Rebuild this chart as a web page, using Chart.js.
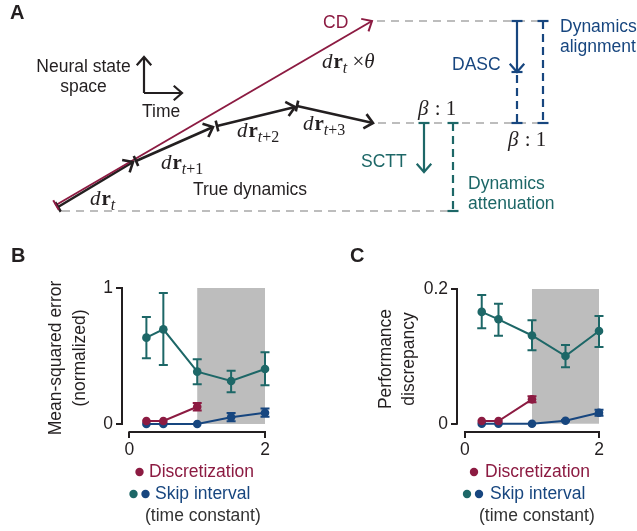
<!DOCTYPE html>
<html><head><meta charset="utf-8">
<script src="https://cdn.jsdelivr.net/npm/chart.js@4.4.1/dist/chart.umd.min.js"></script>
<style>
html,body{margin:0;padding:0;background:#fff;width:637px;height:531px;overflow:hidden;}
canvas{position:absolute;}
</style></head><body>
<canvas id="cA" width="637" height="230" style="left:0px;top:0px"></canvas>
<canvas id="cB" width="318" height="301" style="left:0px;top:230px"></canvas>
<canvas id="cC" width="319" height="301" style="left:318px;top:230px"></canvas>
<script>
// ================= DATA =================
// x values: skip interval / discretization (time constant)
const skipIntervals = [0.25, 0.5, 1, 1.5, 2];
const discIntervals = [0.25, 0.5, 1];
const shadeRange = [1, 2];

// Panel B: Mean-squared error (normalized)
const mseSkipTeal     = [0.635, 0.696, 0.385, 0.316, 0.404];
const mseSkipTealLow  = [0.483, 0.434, 0.292, 0.233, 0.284];
const mseSkipTealHigh = [0.787, 0.963, 0.476, 0.392, 0.527];
const mseSkipBlue     = [0, 0, 0, 0.05, 0.083];
const mseSkipBlueLow  = [0, 0, 0, 0.02, 0.053];
const mseSkipBlueHigh = [0, 0, 0, 0.08, 0.113];
const mseDisc         = [0.022, 0.022, 0.127];
const mseDiscLow      = [0.022, 0.022, 0.099];
const mseDiscHigh     = [0.022, 0.022, 0.155];
const mseYTicks = [0, 1];
const mseYTickLabels = ['0', '1'];

// Panel C: Performance discrepancy
const perfSkipTeal     = [0.166, 0.155, 0.131, 0.1005, 0.1376];
const perfSkipTealLow  = [0.1416, 0.1307, 0.109, 0.084, 0.114];
const perfSkipTealHigh = [0.191, 0.178, 0.1535, 0.117, 0.160];
const perfSkipBlue     = [0, 0, 0, 0.0045, 0.0163];
const perfSkipBlueLow  = [0, 0, 0, 0.0035, 0.0118];
const perfSkipBlueHigh = [0, 0, 0, 0.0055, 0.0208];
const perfDisc         = [0.004, 0.004, 0.0362];
const perfDiscLow      = [0.004, 0.004, 0.0317];
const perfDiscHigh     = [0.004, 0.004, 0.0407];
const perfYTicks = [0, 0.2];
const perfYTickLabels = ['0', '0.2'];

const xTicks = [0, 2];
const xTickLabels = ['0', '2'];

// Panel A: schematic (diagram coordinates)
const cdLine      = [[56, 205], [372, 21]];
const drStep0     = [[58, 207], [133, 162]];
const drStep1     = [[136, 161], [213, 127]];
const drStep2     = [[217, 126], [295, 107]];
const drStep3     = [[297, 106], [373, 123]];
const axisUp      = [[144, 93], [144, 57]];
const axisRight   = [[144, 93], [182, 93]];
const refTop      = [[377, 21], [543, 21]];
const refMid      = [[378, 123], [548, 123]];
const refBottom   = [[62, 211], [449, 211]];
const dascArrow   = [[517, 21], [517, 72]];
const dascDash    = [[517, 75], [517, 123]];
const alignDash   = [[543, 21], [543, 123]];
const scttArrow   = [[424, 123], [424, 172]];
const attenDash   = [[453, 123], [453, 211]];

// ================= STYLE =================
const CRIMSON = '#8C1B42';
const BLUE = '#17467F';
const TEAL = '#1D6767';
const INK = '#231F20';
const GREY = '#BDBDBD';
const SANS = '"Liberation Sans", Arial, sans-serif';
const SERIF = '"Liberation Serif", "Times New Roman", serif';

Chart.defaults.font.family = SANS;
Chart.defaults.color = INK;

// ================= PANEL A =================
const segs = [
  {pts: refBottom, color: GREY, w: 2, dash: [8, 6]},
  {pts: refMid, color: GREY, w: 2, dash: [8, 6]},
  {pts: refTop, color: GREY, w: 2, dash: [8, 6]},
  {pts: drStep0, color: INK, w: 2.6, arrow: true, capStart: true},
  {pts: drStep1, color: INK, w: 2.6, arrow: true, capStart: true},
  {pts: drStep2, color: INK, w: 2.6, arrow: true, capStart: true},
  {pts: drStep3, color: INK, w: 2.6, arrow: true, capStart: true},
  {pts: cdLine, color: CRIMSON, w: 2, arrow: true, capStart: true},
  {pts: axisUp, color: INK, w: 2.2, arrow: true},
  {pts: axisRight, color: INK, w: 2.2, arrow: true},
  {pts: dascArrow, color: BLUE, w: 2.2, arrow: true, capStart: true, capEnd: true},
  {pts: dascDash, color: BLUE, w: 2.2, dash: [8, 5], capEnd: true},
  {pts: alignDash, color: BLUE, w: 2.2, dash: [8, 5], capStart: true, capEnd: true},
  {pts: scttArrow, color: TEAL, w: 2.2, arrow: true, capStart: true},
  {pts: attenDash, color: TEAL, w: 2.2, dash: [8, 5], capStart: true, capEnd: true}
];

const sansLabels = [
  {t: 'A', x: 10, y: 13, c: INK, f: 'bold 20px ' + SANS},
  {t: 'Neural state', x: 83.5, y: 67, c: INK, align: 'center'},
  {t: 'space', x: 83.5, y: 87, c: INK, align: 'center'},
  {t: 'Time', x: 142, y: 112, c: INK},
  {t: 'True dynamics', x: 193, y: 190, c: INK},
  {t: 'CD', x: 323, y: 23, c: CRIMSON},
  {t: 'DASC', x: 452, y: 65, c: BLUE},
  {t: 'Dynamics', x: 560, y: 27, c: BLUE},
  {t: 'alignment', x: 560, y: 47, c: BLUE},
  {t: 'SCTT', x: 361, y: 162, c: TEAL},
  {t: 'Dynamics', x: 468, y: 184, c: TEAL},
  {t: 'attenuation', x: 468, y: 204, c: TEAL}
];

// math labels: parts [text, style] ; i=italic, b=bold, n=normal, si/sn = subscript
const mathLabels = [
  {x: 90, y: 205, parts: [['d','i'],['r','b'],['t','si']]},
  {x: 161, y: 169, parts: [['d','i'],['r','b'],['t','si'],['+1','sn']]},
  {x: 237, y: 137, parts: [['d','i'],['r','b'],['t','si'],['+2','sn']]},
  {x: 303, y: 130, parts: [['d','i'],['r','b'],['t','si'],['+3','sn']]},
  {x: 322, y: 68, parts: [['d','i'],['r','b'],['t','si'],[' \u00D7','n'],['\u03B8','i']]},
  {x: 418, y: 115, parts: [['\u03B2','i'],[' : ','n'],['1','n']]},
  {x: 508, y: 145.5, parts: [['\u03B2','i'],[' : ','n'],['1','n']]}
];

const mathFonts = {
  i: 'italic 21px ' + SERIF,
  b: 'bold 21px ' + SERIF,
  n: '21px ' + SERIF,
  si: 'italic 16px ' + SERIF,
  sn: '16px ' + SERIF
};

const diagramPlugin = {
  id: 'diagram',
  afterDatasetsDraw(chart) {
    const ctx = chart.ctx;
    chart.data.datasets.forEach((ds, i) => {
      const meta = chart.getDatasetMeta(i);
      const p = meta.data;
      if (p.length < 2) return;
      ctx.save();
      ctx.strokeStyle = ds.borderColor;
      ctx.lineWidth = ds.borderWidth;
      ctx.lineCap = 'butt';
      ctx.setLineDash([]);
      const a = p[p.length - 2], b = p[p.length - 1];
      const ang = Math.atan2(b.y - a.y, b.x - a.x);
      if (ds.arrow) {
        const L = 11, h = 0.72;
        ctx.beginPath();
        ctx.moveTo(b.x - L * Math.cos(ang - h), b.y - L * Math.sin(ang - h));
        ctx.lineTo(b.x, b.y);
        ctx.lineTo(b.x - L * Math.cos(ang + h), b.y - L * Math.sin(ang + h));
        ctx.stroke();
      }
      const cap = (pt, an) => {
        const c = 5.5;
        ctx.beginPath();
        ctx.moveTo(pt.x + c * Math.cos(an + Math.PI / 2), pt.y + c * Math.sin(an + Math.PI / 2));
        ctx.lineTo(pt.x - c * Math.cos(an + Math.PI / 2), pt.y - c * Math.sin(an + Math.PI / 2));
        ctx.stroke();
      };
      if (ds.capStart) cap(p[0], ang);
      if (ds.capEnd) cap(b, ang);
      ctx.restore();
    });
  },
  afterDraw(chart) {
    const ctx = chart.ctx;
    const {x: xs, y: ys} = chart.scales;
    ctx.save();
    sansLabels.forEach(l => {
      ctx.font = l.f || ('17.5px ' + SANS);
      ctx.fillStyle = l.c;
      ctx.textAlign = l.align || 'left';
      ctx.textBaseline = 'middle';
      ctx.fillText(l.t, xs.getPixelForValue(l.x), ys.getPixelForValue(l.y));
    });
    mathLabels.forEach(m => {
      let px = xs.getPixelForValue(m.x);
      const py = ys.getPixelForValue(m.y);
      ctx.fillStyle = INK;
      ctx.textAlign = 'left';
      ctx.textBaseline = 'alphabetic';
      m.parts.forEach(([t, s]) => {
        ctx.font = mathFonts[s];
        const dy = (s === 'si' || s === 'sn') ? 5 : 0;
        ctx.fillText(t, px, py + dy);
        px += ctx.measureText(t).width + (s === 'i' ? 1 : 0);
      });
    });
    ctx.restore();
  }
};

new Chart(document.getElementById('cA'), {
  type: 'scatter',
  data: {
    datasets: segs.map((s, i) => ({
      data: s.pts.map(([x, y]) => ({x, y})),
      showLine: true,
      borderColor: s.color,
      borderWidth: s.w,
      borderDash: s.dash || [],
      pointRadius: 0,
      fill: false,
      clip: false,
      order: segs.length - i,
      arrow: !!s.arrow,
      capStart: !!s.capStart,
      capEnd: !!s.capEnd
    }))
  },
  options: {
    responsive: false,
    animation: false,
    devicePixelRatio: 1,
    layout: {padding: 0},
    plugins: {legend: {display: false}, tooltip: {enabled: false}},
    scales: {
      x: {type: 'linear', min: 0, max: 637, display: false},
      y: {type: 'linear', min: 0, max: 230, reverse: true, display: false}
    }
  },
  plugins: [diagramPlugin]
});

// ================= PANELS B & C =================
const panelPlugin = {
  id: 'panelDeco',
  beforeDatasetsDraw(chart) {
    const o = chart.options.plugins.panelDeco;
    const {ctx, chartArea: ca} = chart;
    const {x, y} = chart.scales;
    ctx.save();
    // shaded interval
    const sx0 = x.getPixelForValue(shadeRange[0]), sx1 = x.getPixelForValue(shadeRange[1]);
    const sy0 = y.getPixelForValue(o.yTicks[0]), sy1 = y.getPixelForValue(o.yTicks[o.yTicks.length - 1]);
    ctx.fillStyle = GREY;
    ctx.fillRect(sx0, sy1, sx1 - sx0, sy0 - sy1);
    // spines
    ctx.strokeStyle = INK;
    ctx.lineWidth = 2;
    ctx.beginPath();
    ctx.moveTo(ca.left, sy0 + 1); ctx.lineTo(ca.left, sy1 - 1);
    ctx.moveTo(x.getPixelForValue(xTicks[0]) - 1, ca.bottom);
    ctx.lineTo(x.getPixelForValue(xTicks[xTicks.length - 1]) + 1, ca.bottom);
    ctx.stroke();
    // error bars
    chart.data.datasets.forEach(ds => {
      if (!ds.errLow) return;
      ctx.strokeStyle = ds.borderColor;
      ctx.lineWidth = 2;
      ds.data.forEach((pt, j) => {
        const lo = ds.errLow[j], hi = ds.errHigh[j];
        if (hi - lo <= 0) return;
        const px = x.getPixelForValue(pt.x);
        const pl = y.getPixelForValue(lo), ph = y.getPixelForValue(hi);
        ctx.beginPath();
        ctx.moveTo(px, pl); ctx.lineTo(px, ph);
        ctx.moveTo(px - 4.5, pl); ctx.lineTo(px + 4.5, pl);
        ctx.moveTo(px - 4.5, ph); ctx.lineTo(px + 4.5, ph);
        ctx.stroke();
      });
    });
    ctx.restore();
  },
  afterDraw(chart) {
    const o = chart.options.plugins.panelDeco;
    const ctx = chart.ctx;
    const ox = o.offsetX, oy = o.offsetY;
    ctx.save();
    // panel letter
    ctx.font = 'bold 20px ' + SANS;
    ctx.fillStyle = INK;
    ctx.textBaseline = 'middle';
    ctx.textAlign = 'left';
    ctx.fillText(o.letter, o.letterPos[0] - ox, o.letterPos[1] - oy);
    // axis title
    ctx.font = '17.5px ' + SANS;
    ctx.textAlign = 'center';
    o.title.forEach((line, k) => {
      ctx.save();
      ctx.translate(o.titleX[k] - ox, o.titleY - oy);
      ctx.rotate(-Math.PI / 2);
      ctx.fillText(line, 0, 0);
      ctx.restore();
    });
    // legend
    const L = o.legend;
    const dot = (cx, cy, c) => {
      ctx.fillStyle = c; ctx.beginPath(); ctx.arc(cx - ox, cy - oy, 4.2, 0, Math.PI * 2); ctx.fill();
    };
    ctx.textAlign = 'left';
    dot(L.discDot, 472, CRIMSON);
    ctx.fillStyle = CRIMSON;
    ctx.fillText('Discretization', L.discText - ox, 472 - oy);
    dot(L.tealDot, 494, TEAL);
    dot(L.blueDot, 494, BLUE);
    ctx.fillStyle = BLUE;
    ctx.fillText('Skip interval', L.skipText - ox, 494 - oy);
    ctx.fillStyle = '#333333';
    ctx.fillText('(time constant)', L.tcText - ox, 516 - oy);
    ctx.restore();
  }
};

function makePanel(id, cfg) {
  const series = (xs, ys, lo, hi, color, order) => ({
    data: xs.map((x, i) => ({x, y: ys[i]})),
    errLow: lo, errHigh: hi,
    showLine: true,
    borderColor: color,
    backgroundColor: color,
    borderWidth: 2,
    pointRadius: 4.3,
    pointBorderWidth: 0,
    pointHoverRadius: 4.3,
    clip: false,
    order
  });
  new Chart(document.getElementById(id), {
    type: 'scatter',
    data: {
      datasets: [
        series(skipIntervals, cfg.teal, cfg.tealLow, cfg.tealHigh, TEAL, 2),
        series(skipIntervals, cfg.blue, cfg.blueLow, cfg.blueHigh, BLUE, 1),
        series(discIntervals, cfg.disc, cfg.discLow, cfg.discHigh, CRIMSON, 0)
      ]
    },
    options: {
      responsive: false,
      animation: false,
      devicePixelRatio: 1,
      layout: {padding: {left: 0, top: cfg.top, right: cfg.right, bottom: cfg.bottom}},
      plugins: {
        legend: {display: false},
        tooltip: {enabled: false},
        panelDeco: cfg.deco
      },
      scales: {
        x: {
          type: 'linear', min: cfg.xMin, max: 2,
          afterFit: s => { s.height = 30; },
          afterBuildTicks: s => { s.ticks = xTicks.map(v => ({value: v})); },
          ticks: {callback: (v) => xTickLabels[xTicks.indexOf(v)], font: {size: 17.5}, color: INK, padding: 2, maxRotation: 0, autoSkip: false},
          grid: {display: true, drawOnChartArea: false, drawTicks: true, tickLength: 6, color: INK, lineWidth: 2},
          border: {display: false}
        },
        y: {
          type: 'linear', min: cfg.yMin, max: cfg.yTicks[cfg.yTicks.length - 1],
          afterFit: s => { s.width = cfg.left; },
          afterBuildTicks: s => { s.ticks = cfg.yTicks.map(v => ({value: v})); },
          ticks: {callback: (v) => cfg.yTickLabels[cfg.yTicks.indexOf(v)], font: {size: 17.5}, color: INK, padding: 3, autoSkip: false},
          grid: {display: true, drawOnChartArea: false, drawTicks: true, tickLength: 6, color: INK, lineWidth: 2},
          border: {display: false}
        }
      }
    },
    plugins: [panelPlugin]
  });
}

makePanel('cB', {
  teal: mseSkipTeal, tealLow: mseSkipTealLow, tealHigh: mseSkipTealHigh,
  blue: mseSkipBlue, blueLow: mseSkipBlueLow, blueHigh: mseSkipBlueHigh,
  disc: mseDisc, discLow: mseDiscLow, discHigh: mseDiscHigh,
  yTicks: mseYTicks, yTickLabels: mseYTickLabels,
  left: 122, top: 58, right: 318 - 265, bottom: 301 - 202 - 30,
  xMin: -0.11, yMin: -0.059,
  deco: {
    yTicks: mseYTicks, offsetX: 0, offsetY: 230,
    letter: 'B', letterPos: [11, 256],
    title: ['Mean-squared error', '(normalized)'], titleX: [56, 80], titleY: 358,
    legend: {discDot: 139.5, discText: 149, tealDot: 133.5, blueDot: 145.5, skipText: 155, tcText: 145}
  }
});

makePanel('cC', {
  teal: perfSkipTeal, tealLow: perfSkipTealLow, tealHigh: perfSkipTealHigh,
  blue: perfSkipBlue, blueLow: perfSkipBlueLow, blueHigh: perfSkipBlueHigh,
  disc: perfDisc, discLow: perfDiscLow, discHigh: perfDiscHigh,
  yTicks: perfYTicks, yTickLabels: perfYTickLabels,
  left: 139, top: 59, right: 319 - 281, bottom: 301 - 202 - 30,
  xMin: -0.119, yMin: -0.0123,
  deco: {
    yTicks: perfYTicks, offsetX: 318, offsetY: 230,
    letter: 'C', letterPos: [350, 256],
    title: ['Performance', 'discrepancy'], titleX: [386, 409], titleY: 359,
    legend: {discDot: 474, discText: 485, tealDot: 467, blueDot: 479, skipText: 490, tcText: 479}
  }
});
</script>
</body></html>
